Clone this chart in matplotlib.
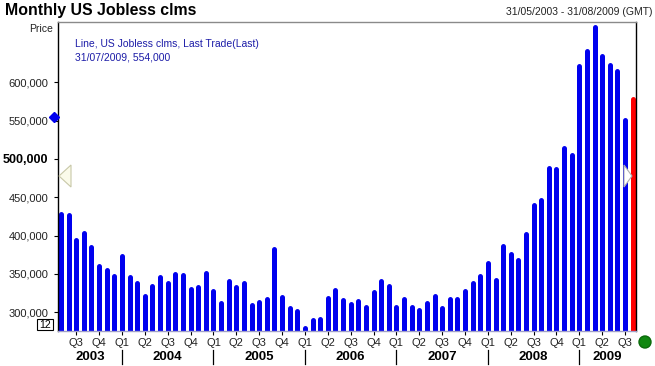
import numpy as np
import pandas as pd
import matplotlib
matplotlib.use("Agg")
import matplotlib.pyplot as plt
from matplotlib.patches import Polygon, Circle, Rectangle
from matplotlib.lines import Line2D
import matplotlib.transforms as mtransforms

plt.rcParams['font.family'] = ['Liberation Sans', 'DejaVu Sans']

# ---- data ----
months = pd.period_range('2003-05', '2009-08', freq='M')
claims = [432000, 430000, 398000, 407000, 388000, 364000, 358000, 350000, 377000, 349000,
          342000, 324000, 337000, 349000, 342000, 353000, 352000, 334000, 336000, 354000,
          331000, 316000, 344000, 336000, 342000, 313000, 317000, 321000, 386000, 323000,
          309000, 305000, 283000, 293000, 295000, 322000, 333000, 319000, 314000, 318000,
          310000, 330000, 344000, 337000, 310000, 320000, 310000, 306000, 316000, 324000,
          309000, 320000, 320000, 331000, 341000, 350000, 367000, 345000, 390000, 379000,
          372000, 406000, 443000, 450000, 491000, 490000, 518000, 509000, 625000, 644000,
          675000, 637000, 626000, 618000, 554000, 581000]
y_ticks = [300000, 350000, 400000, 450000, 500000, 550000, 600000]
years = ['2003', '2004', '2005', '2006', '2007', '2008', '2009']
last_value = 554000
title = 'Monthly US Jobless clms'
date_range_text = '31/05/2003 - 31/08/2009 (GMT)'
legend_lines = ['Line, US Jobless clms, Last Trade(Last)', '31/07/2009, 554,000']

W, H = 655, 366
def fx(x): return x / W
def fy(y): return 1 - y / H

fig = plt.figure(figsize=(W / 100, H / 100), dpi=100)
fig.patch.set_facecolor('white')
ax = fig.add_axes([fx(58), fy(331), (636 - 58) / W, (331 - 22) / H])

ylo, yhi = 275650, 678500
ax.set_xlim(-0.39, len(claims) - 1 + 0.43)
ax.set_ylim(ylo, yhi)

x = np.arange(len(claims))
colors = ['#0000EE'] * (len(claims) - 1) + ['#FF0000']
bar_px = 5.0
# half the bar width (in data units of y) so the rounded cap ends at the value
ax_h_px = (331 - 22)
cap = (bar_px / 2) * (yhi - ylo) / ax_h_px
vl = ax.vlines(x, ylo - 20000, np.array(claims) - cap, colors=colors,
               linewidth=bar_px * 0.72, zorder=2)
vl.set_capstyle('round')

# spines
ax.spines['left'].set_color('black')
ax.spines['right'].set_color('black')
ax.spines['top'].set_color('#8a8a8a')
ax.spines['bottom'].set_color('#a0a0c8')
for s in ax.spines.values():
    s.set_linewidth(1.0)
    s.set_zorder(3)

# y ticks
ax.set_yticks(y_ticks)
ax.set_yticklabels([f'{v:,}' for v in y_ticks])
ax.tick_params(axis='y', length=3, width=0.8, color='black', pad=4,
               labelsize=8, labelcolor='#222222')
for lab, v in zip(ax.get_yticklabels(), y_ticks):
    if v == 500000:
        lab.set_fontweight('bold')
        lab.set_fontsize(9)
        lab.set_color('black')

# quarter ticks
q_idx = [i for i, p in enumerate(months) if p.month in (1, 4, 7, 10)]
q_lab = [f'Q{(months[i].month - 1) // 3 + 1}' for i in q_idx]
ax.set_xticks(q_idx)
ax.set_xticklabels(q_lab)
ax.tick_params(axis='x', length=3, width=0.8, color='black', pad=2,
               labelsize=8, labelcolor='#222222')

# year labels and separators
trans = mtransforms.blended_transform_factory(ax.transData, fig.transFigure)
jan_idx = [i for i, p in enumerate(months) if p.month == 1]
xmin, xmax = ax.get_xlim()
bounds = [xmin] + jan_idx + [xmax]
for k, yr in enumerate(years):
    cx = (bounds[k] + bounds[k + 1]) / 2
    ax.text(cx, fy(357), yr, transform=trans, ha='center', va='center',
            fontsize=9.5, fontweight='bold', color='black')
for j in jan_idx:
    fig.add_artist(Line2D([j, j], [fy(350), fy(364)], transform=trans,
                          color='black', lw=0.9))

# texts
fig.text(fx(5), fy(15), title, fontsize=11.4, fontweight='bold', ha='left',
         va='baseline', color='black')
fig.text(fx(653), fy(12), date_range_text, fontsize=7.5, ha='right',
         va='center', color='#222222')
fig.text(fx(53), fy(29), 'Price', fontsize=7.5, ha='right', va='center',
         color='#222222')
fig.text(fx(75), fy(44), legend_lines[0], fontsize=7.5, ha='left',
         va='center', color='#1c1ca8')
fig.text(fx(75), fy(58), legend_lines[1], fontsize=7.5, ha='left',
         va='center', color='#1c1ca8')

# last-value diamond on y axis
ytrans = mtransforms.blended_transform_factory(fig.transFigure, ax.transData)
ax.plot([fx(53.7)], [last_value], marker='D', markersize=5, color='#0000EE',
        transform=ytrans, clip_on=False, zorder=5)

# navigation triangles
fig.add_artist(Polygon([(fx(59), fy(176)), (fx(71), fy(165)), (fx(71), fy(187))],
                       closed=True, facecolor='#fbfbea', edgecolor='#c8c8a8',
                       lw=0.8, transform=fig.transFigure))
fig.add_artist(Polygon([(fx(632), fy(176)), (fx(624), fy(165)), (fx(624), fy(187))],
                       closed=True, facecolor='white', edgecolor='#b0b0b0',
                       lw=0.8, transform=fig.transFigure))

# zoom box
fig.add_artist(Rectangle((fx(37), fy(330)), 16 / W, 11 / H, facecolor='white',
                         edgecolor='black', lw=0.8, transform=fig.transFigure))
fig.text(fx(45), fy(324.5), '12', fontsize=7.5, ha='center', va='center',
         color='black')

# green dot (in inches so it stays round)
fig.add_artist(Circle((6.45, (H - 342) / 100), 0.06, facecolor='#118811',
                      edgecolor='#0a6a0a', transform=fig.dpi_scale_trans))

fig.savefig('out.png', dpi=100)
